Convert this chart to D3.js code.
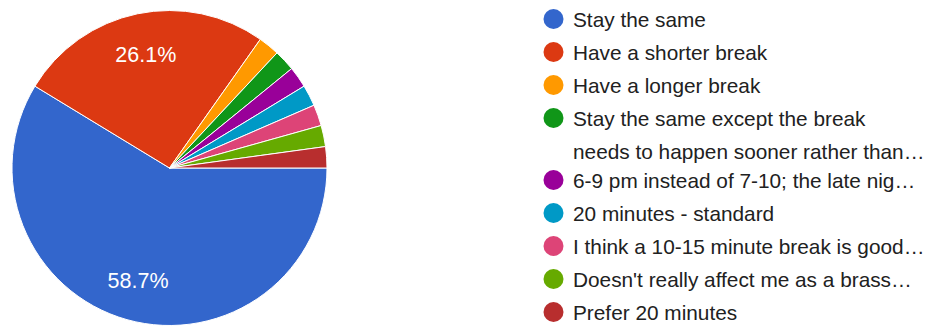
<!DOCTYPE html>
<html>
<head>
<meta charset="utf-8">
<script src="https://cdn.jsdelivr.net/npm/d3@7"></script>
<style>
  body { margin: 0; background: #fff; }
  svg { display: block; }
</style>
</head>
<body>
<div id="chart"></div>
<script>
// chart data
const labels = [
    ["Stay the same"],
    ["Have a shorter break"],
    ["Have a longer break"],
    ["Stay the same except the break", "needs to happen sooner rather than\u2026"],
    ["6-9 pm instead of 7-10; the late nig\u2026"],
    ["20 minutes - standard"],
    ["I think a 10-15 minute break is good\u2026"],
    ["Doesn't really affect me as a brass\u2026"],
    ["Prefer 20 minutes"]
];
const counts = [27, 12, 1, 1, 1, 1, 1, 1, 1];
const colors = ["#3366cc", "#dc3912", "#ff9900", "#109618", "#990099", "#0099c6", "#dd4477", "#66aa00", "#b82e2e"];

const width = 934;
const height = 326;
const cx = 169.5, cy = 168, radius = 157.5;

const svg = d3.select("#chart")
    .append("svg")
    .attr("width", width)
    .attr("height", height);

const data = counts.map((c, i) => ({ label: labels[i], value: c, color: colors[i] }));
const total = d3.sum(counts);

// pie starts at 3 o'clock and goes clockwise
const pie = d3.pie()
    .value(d => d.value)
    .sort(null)
    .startAngle(Math.PI / 2)
    .endAngle(Math.PI / 2 + 2 * Math.PI);

const arc = d3.arc().innerRadius(0).outerRadius(radius);
const labelArc = d3.arc().innerRadius(radius * 0.74).outerRadius(radius * 0.74);

const g = svg.append("g").attr("transform", `translate(${cx},${cy})`);

const arcs = pie(data);

g.selectAll("path")
    .data(arcs)
    .enter().append("path")
    .attr("d", arc)
    .attr("fill", d => d.data.color)
    .attr("stroke", "#fff")
    .attr("stroke-width", 1);

// percent labels only on the big slices
g.selectAll("text")
    .data(arcs.filter(d => d.data.value / total > 0.05))
    .enter().append("text")
    .attr("transform", d => `translate(${labelArc.centroid(d)})`)
    .attr("text-anchor", "middle")
    .attr("dy", "0.36em")
    .attr("fill", "#fff")
    .style("font-family", "'Liberation Sans', Arial, sans-serif")
    .style("font-size", "21.5px")
    .text(d => (d.data.value / total * 100).toFixed(1) + "%");

// legend
const legend = svg.append("g");
let y = 19;
data.forEach(d => {
    const item = legend.append("g").attr("transform", `translate(0,${y})`);
    item.append("circle")
        .attr("cx", 553.5)
        .attr("cy", 0)
        .attr("r", 10)
        .attr("fill", d.color);
    d.label.forEach((line, j) => {
        item.append("text")
            .attr("x", 573)
            .attr("y", j * 34)
            .attr("dy", "0.36em")
            .attr("fill", "#212121")
            .style("font-family", "'Liberation Sans', Arial, sans-serif")
            .style("font-size", "20.8px")
            .text(line);
    });
    y += 33 + (d.label.length - 1) * 29;
});
</script>
</body>
</html>
